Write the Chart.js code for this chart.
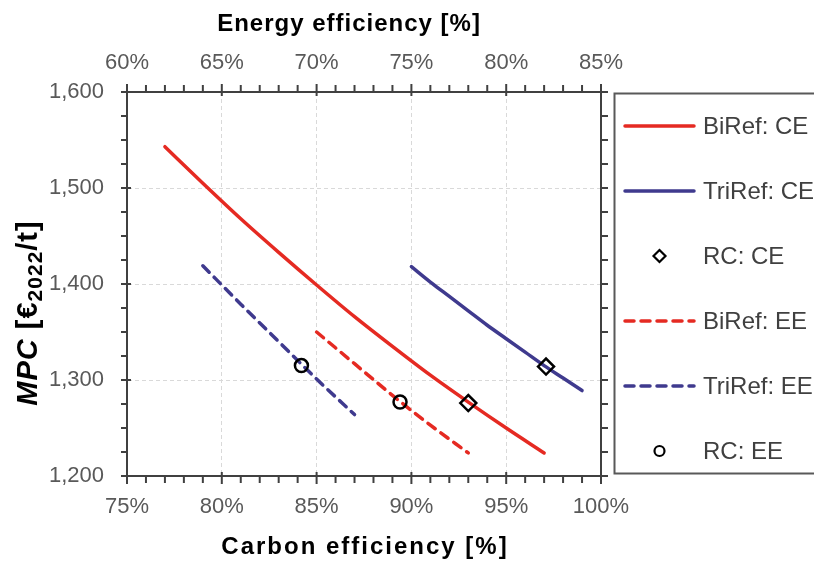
<!DOCTYPE html>
<html>
<head>
<meta charset="utf-8">
<title>MPC vs. carbon and energy efficiency</title>
<script src="https://cdn.jsdelivr.net/npm/chart.js@4.4.1/dist/chart.umd.min.js"></script>
<style>
  html, body { margin: 0; padding: 0; background: #ffffff; }
  #wrap { width: 814px; height: 561px; }
</style>
</head>
<body>
<div id="wrap"><canvas id="chart" width="814" height="561"></canvas></div>
<script>
// ---- data -------------------------------------------------------------
// Carbon efficiency [%] (bottom axis) vs. MPC [EUR2022/t]
const biRefCE_x  = [77, 79, 81, 83, 85, 87, 89, 91, 93, 95, 97];
const biRefCE_y  = [1543, 1505, 1468, 1433, 1399, 1366, 1335, 1305, 1277, 1250, 1224];
const triRefCE_x = [90, 91, 92, 93, 94, 95, 96, 97, 98, 99];
const triRefCE_y = [1418, 1402, 1387, 1372, 1357, 1343, 1329, 1315, 1302, 1289];
const rcCE_x     = [93.0, 97.1];
const rcCE_y     = [1276, 1314];

// Energy efficiency [%] (top axis) vs. MPC [EUR2022/t]
const biRefEE_x  = [70, 72, 74, 76, 78];
const biRefEE_y  = [1350, 1317, 1284, 1253, 1224];
const triRefEE_x = [64, 66, 68, 70, 72];
const triRefEE_y = [1419, 1379, 1340, 1301, 1264];
const rcEE_x     = [74.4, 69.2];
const rcEE_y     = [1277, 1315];

// axis ticks
const carbonTicks = [75, 80, 85, 90, 95, 100];
const energyTicks = [60, 65, 70, 75, 80, 85];
const mpcTicks    = [1200, 1300, 1400, 1500, 1600];

const seriesLabels = ['BiRef: CE', 'TriRef: CE', 'RC: CE', 'BiRef: EE', 'TriRef: EE', 'RC: EE'];

// ---- styling ----------------------------------------------------------
const FONT = "'Liberation Sans', Arial, Helvetica, sans-serif";
const RED = '#E52A22';
const BLUE = '#3F3A8E';
const AXIS = '#404040';
const TICK_TEXT = '#595959';
const GRID = '#D9D9D9';
const DASH = [9, 7];

const pts = (xs, ys) => xs.map((x, i) => ({ x: x, y: ys[i] }));

function lineSet(label, xs, ys, color, dashed, axis) {
  return {
    label: label, data: pts(xs, ys), xAxisID: axis, yAxisID: 'y',
    showLine: true, borderColor: color, backgroundColor: color,
    borderWidth: 3.5, borderDash: dashed ? DASH : [], borderCapStyle: 'round',
    cubicInterpolationMode: 'monotone', pointRadius: 0, pointHoverRadius: 0,
    order: 2, legendKind: dashed ? 'dash' : 'line'
  };
}
function markerSet(label, xs, ys, style, radius, axis) {
  return {
    label: label, data: pts(xs, ys), xAxisID: axis, yAxisID: 'y',
    showLine: false, pointStyle: style, pointRadius: radius, pointHoverRadius: radius,
    pointBorderWidth: 2.5, pointBorderColor: '#000000',
    pointBackgroundColor: 'rgba(0,0,0,0)', borderColor: '#000000',
    order: 1, legendKind: style
  };
}

const datasets = [
  lineSet(seriesLabels[0], biRefCE_x, biRefCE_y, RED, false, 'x'),
  lineSet(seriesLabels[1], triRefCE_x, triRefCE_y, BLUE, false, 'x'),
  markerSet(seriesLabels[2], rcCE_x, rcCE_y, 'rectRot', 8, 'x'),
  lineSet(seriesLabels[3], biRefEE_x, biRefEE_y, RED, true, 'x2'),
  lineSet(seriesLabels[4], triRefEE_x, triRefEE_y, BLUE, true, 'x2'),
  markerSet(seriesLabels[5], rcEE_x, rcEE_y, 'circle', 6.5, 'x2')
];

const fixedTicks = list => scale => { scale.ticks = list.map(v => ({ value: v })); };

// ---- axis tick marks, titles and boxed legend --------------------------
const decorations = {
  id: 'decorations',
  afterDraw(chart) {
    const { ctx, chartArea: a, scales } = chart;
    ctx.save();
    ctx.strokeStyle = AXIS;
    ctx.lineWidth = 2;
    const seg = (x1, y1, x2, y2) => { ctx.beginPath(); ctx.moveTo(x1, y1); ctx.lineTo(x2, y2); ctx.stroke(); };

    // bottom axis: minor every 1 %, major every 5 %
    for (let v = 75; v <= 100; v++) {
      const x = scales.x.getPixelForValue(v);
      if (v % 5 === 0) seg(x, a.bottom - 4, x, a.bottom + 8);
      else seg(x, a.bottom, x, a.bottom + 7);
    }
    // top axis
    for (let v = 60; v <= 85; v++) {
      const x = scales.x2.getPixelForValue(v);
      if (v % 5 === 0) seg(x, a.top - 8, x, a.top + 4);
      else seg(x, a.top - 7, x, a.top);
    }
    // left and right axes: minor every 25, major every 100
    for (let v = 1200; v <= 1600; v += 25) {
      const y = scales.y.getPixelForValue(v);
      if (v % 100 === 0) seg(a.left - 6, y, a.left + 4, y);
      else seg(a.left - 6, y, a.left, y);
      seg(a.right, y, a.right + 7, y);
    }

    // axis titles
    ctx.fillStyle = '#000000';
    ctx.textBaseline = 'middle';
    ctx.textAlign = 'center';
    ctx.font = 'bold 24px ' + FONT;
    ctx.letterSpacing = '1px';
    ctx.fillText('Energy efficiency [%]', 349, 24);
    ctx.letterSpacing = '2px';
    ctx.fillText('Carbon efficiency [%]', 365, 547);

    // rotated y title with subscript year
    ctx.letterSpacing = '1px';
    const parts = [
      { t: 'MPC', f: 'italic bold 29px ' + FONT, dy: 0 },
      { t: ' [€', f: 'bold 29px ' + FONT, dy: 0 },
      { t: '2022', f: 'bold 21px ' + FONT, dy: 7 },
      { t: '/t]', f: 'bold 29px ' + FONT, dy: 0 }
    ];
    let total = 0;
    parts.forEach(p => { ctx.font = p.f; p.w = ctx.measureText(p.t).width; total += p.w; });
    ctx.save();
    ctx.translate(29, 313 + total / 2);
    ctx.rotate(-Math.PI / 2);
    ctx.textAlign = 'left';
    let px = 0;
    parts.forEach(p => { ctx.font = p.f; ctx.fillText(p.t, px, p.dy); px += p.w; });
    ctx.restore();
    ctx.letterSpacing = '0px';

    // legend box
    ctx.lineWidth = 2;
    ctx.strokeStyle = '#595959';
    ctx.strokeRect(614.5, 93.5, 210, 380);
    ctx.font = '24px ' + FONT;
    ctx.fillStyle = AXIS;
    ctx.textAlign = 'left';
    chart.data.datasets.forEach((ds, i) => {
      const y = 126 + i * 65;
      const x1 = 625, x2 = 694, xm = (x1 + x2) / 2;
      ctx.save();
      if (ds.legendKind === 'line' || ds.legendKind === 'dash') {
        ctx.strokeStyle = ds.borderColor;
        ctx.lineWidth = ds.borderWidth;
        ctx.lineCap = 'round';
        ctx.setLineDash(ds.legendKind === 'dash' ? DASH : []);
        seg(x1, y, x2, y);
      } else {
        ctx.strokeStyle = '#000000';
        ctx.lineWidth = 2.2;
        ctx.beginPath();
        if (ds.legendKind === 'rectRot') {
          const r = 6;
          ctx.moveTo(xm - r, y); ctx.lineTo(xm, y - r); ctx.lineTo(xm + r, y); ctx.lineTo(xm, y + r); ctx.closePath();
        } else {
          ctx.arc(xm, y, 5, 0, Math.PI * 2);
        }
        ctx.stroke();
      }
      ctx.restore();
      ctx.fillText(ds.label, 703, y + 1);
    });
    ctx.restore();
  }
};

const tickFont = { family: FONT, size: 22 };

new Chart(document.getElementById('chart'), {
  type: 'scatter',
  data: { datasets: datasets },
  options: {
    responsive: false,
    animation: false,
    layout: { padding: 0 },
    plugins: { legend: { display: false }, tooltip: { enabled: false } },
    scales: {
      x: {
        type: 'linear', position: 'bottom', min: 75, max: 100,
        afterBuildTicks: fixedTicks(carbonTicks),
        ticks: { callback: v => v + '%', font: tickFont, color: TICK_TEXT, padding: 18, maxRotation: 0, autoSkip: false },
        grid: { color: GRID, lineWidth: 1, drawTicks: false },
        border: { color: AXIS, width: 2, dash: [4, 3] },
        afterFit: s => { s.height = 85; }
      },
      x2: {
        type: 'linear', position: 'top', min: 60, max: 85,
        afterBuildTicks: fixedTicks(energyTicks),
        ticks: { callback: v => v + '%', font: tickFont, color: TICK_TEXT, padding: 16, maxRotation: 0, autoSkip: false },
        grid: { drawOnChartArea: false, drawTicks: false },
        border: { color: AXIS, width: 2 },
        afterFit: s => { s.height = 92; }
      },
      y: {
        type: 'linear', position: 'left', min: 1200, max: 1600,
        afterBuildTicks: fixedTicks(mpcTicks),
        ticks: { callback: v => v.toLocaleString('en-US'), font: tickFont, color: TICK_TEXT, padding: 23 },
        grid: { color: GRID, lineWidth: 1, drawTicks: false },
        border: { color: AXIS, width: 2, dash: [4, 3] },
        afterFit: s => { s.width = 127; }
      },
      y2: {
        type: 'linear', position: 'right', min: 1200, max: 1600,
        ticks: { display: false },
        grid: { drawOnChartArea: false, drawTicks: false },
        border: { color: AXIS, width: 2 },
        afterFit: s => { s.width = 213; }
      }
    }
  },
  plugins: [decorations]
});
</script>
</body>
</html>
